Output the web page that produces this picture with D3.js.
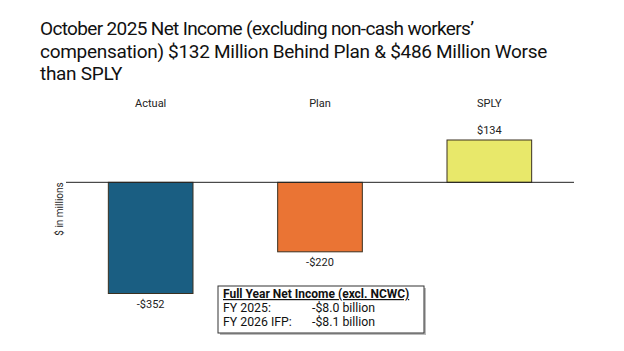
<!DOCTYPE html>
<html><head><meta charset="utf-8">
<script src="https://cdn.jsdelivr.net/npm/d3@7"></script>
<style>body{margin:0;background:#fff;}svg{display:block;}</style>
</head><body>
<script>
const categories = ["Actual", "Plan", "SPLY"];
const values = [-352, -220, 134];
const valueLabels = ["-$352", "-$220", "$134"];
const colors = ["#1a5e82", "#ea7434", "#e8e86a"];
const titleLines = ["October 2025 Net Income (excluding non-cash workers’", "compensation) $132 Million Behind Plan & $486 Million Worse", "than SPLY"];
const boxTitle = "Full Year Net Income (excl. NCWC)";
const boxRows = [["FY 2025:", "-$8.0 billion"], ["FY 2026 IFP:", "-$8.1 billion"]];

const W = 624, H = 351;
const svg = d3.select("body").append("svg").attr("width", W).attr("height", H);
const font = "Roboto, 'Liberation Sans', sans-serif";

svg.append("g").selectAll("text").data(titleLines).join("text")
  .attr("x", 40).attr("y", (d, i) => 35 + i * 22.5)
  .attr("font-family", font).attr("font-size", 19).attr("fill", "#111")
  .attr("letter-spacing", (d, i) => i === 0 ? -0.65 : -0.3)
  .text(d => d);

const x = d3.scaleBand().domain(categories).range([66, 574]).paddingInner(0.5).paddingOuter(0.25);
const y = d3.scaleLinear().domain([-352, 134]).range([293.5, 140]);

svg.append("g").selectAll("rect").data(values).join("rect")
  .attr("x", (d, i) => x(categories[i]))
  .attr("width", x.bandwidth())
  .attr("y", d => y(Math.max(0, d)))
  .attr("height", d => Math.abs(y(d) - y(0)))
  .attr("fill", (d, i) => colors[i])
  .attr("stroke", "#3a3020").attr("stroke-width", 1);

svg.append("line").attr("x1", 66).attr("x2", 574).attr("y1", y(0)).attr("y2", y(0))
  .attr("stroke", "#222").attr("stroke-width", 1);

svg.append("g").selectAll("text").data(categories).join("text")
  .attr("x", d => x(d) + x.bandwidth() / 2).attr("y", 107)
  .attr("text-anchor", "middle").attr("font-family", font).attr("font-size", 11).attr("fill", "#222")
  .text(d => d);

svg.append("g").selectAll("text").data(values).join("text")
  .attr("x", (d, i) => x(categories[i]) + x.bandwidth() / 2)
  .attr("y", d => d >= 0 ? y(d) - 6 : y(d) + 14)
  .attr("text-anchor", "middle").attr("font-family", font).attr("font-size", 11).attr("fill", "#222")
  .text((d, i) => valueLabels[i]);

svg.append("text").attr("transform", "translate(63,209) rotate(-90)")
  .attr("text-anchor", "middle").attr("font-family", font).attr("font-size", 10).attr("fill", "#222")
  .text("$ in millions");

// info box
const bx = 218, by = 286, bw = 206, bh = 47;
svg.append("rect").attr("x", bx + 2).attr("y", by + 2).attr("width", bw).attr("height", bh).attr("fill", "#bbb");
svg.append("rect").attr("x", bx).attr("y", by).attr("width", bw).attr("height", bh)
  .attr("fill", "#fff").attr("stroke", "#333").attr("stroke-width", 1);
svg.append("text").attr("x", bx + 5).attr("y", by + 12)
  .attr("font-family", font).attr("font-size", 12).attr("font-weight", "bold").attr("fill", "#111")
  .attr("text-decoration", "underline").text(boxTitle);
const rows = svg.append("g").selectAll("g").data(boxRows).join("g");
rows.append("text").attr("x", bx + 5).attr("y", (d, i) => by + 26 + i * 13.5)
  .attr("font-family", font).attr("font-size", 12.3).attr("fill", "#111").text(d => d[0]);
rows.append("text").attr("x", bx + 94).attr("y", (d, i) => by + 26 + i * 13.5)
  .attr("font-family", font).attr("font-size", 12.3).attr("fill", "#111").text(d => d[1]);
</script>
</body></html>
